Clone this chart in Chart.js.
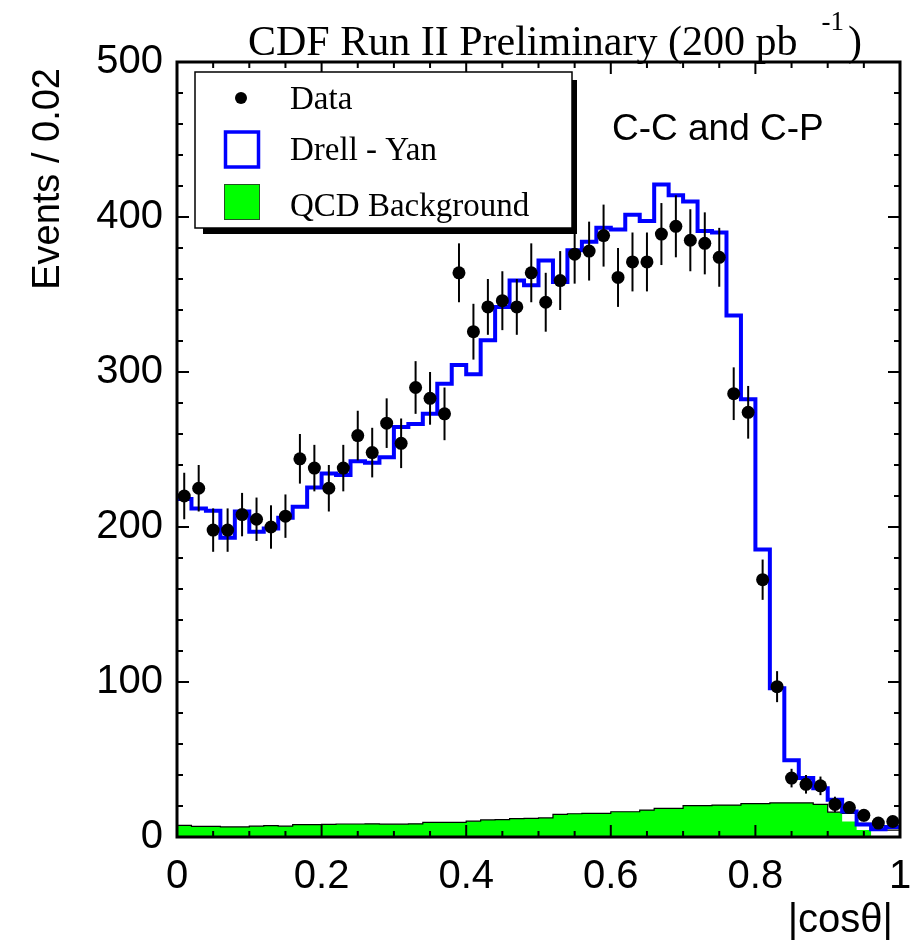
<!DOCTYPE html>
<html><head><meta charset="utf-8">
<script src="https://cdn.jsdelivr.net/npm/chart.js@4.4.0/dist/chart.umd.min.js"></script>
<style>html,body{margin:0;padding:0;background:#fff}canvas{display:block}</style>
</head><body>
<canvas id="c" width="917" height="942"></canvas>
<script>
// ---- data (|cos theta| bins of width 0.02) ----
const binEdges = [0,0.02,0.04,0.06,0.08,0.10,0.12,0.14,0.16,0.18,0.20,0.22,0.24,0.26,0.28,0.30,0.32,0.34,0.36,0.38,0.40,0.42,0.44,0.46,0.48,0.50,0.52,0.54,0.56,0.58,0.60,0.62,0.64,0.66,0.68,0.70,0.72,0.74,0.76,0.78,0.80,0.82,0.84,0.86,0.88,0.90,0.92,0.94,0.96,0.98,1.00];
const dataCounts = [220,225,198,198,208,205,200,207,244,238,225,238,259,248,267,254,290,283,273,364,326,342,346,342,364,345,359,376,378,388,361,371,371,389,394,385,383,374,286,274,166,97,38,34,33,21,19,14,9,10];
const dataErrors = [15,15,14,14,14,14,14,14,16,15,15,15,16,16,16,16,17,17,17,19,18,18,19,18,19,19,19,19,19,20,19,19,19,20,20,20,20,19,17,17,13,10,6,6,6,5,4,4,3,3];
const drellYan = [218,212,210.5,193,210,197,199,206,213,225.5,234.5,233.5,242.5,241.5,245,264.5,266.5,273,292.5,304.5,298.5,320.5,342,359,356,372,358,378.5,384,393,392,401.5,397.5,421,414,410,391,390,336.5,282.5,185.5,96,49.5,38,31.5,24,16.5,8,5,6.5];
const qcdFill = [7.5,6.8,6.8,6.5,6.5,7.0,7.3,7.0,8.0,8.0,8.2,8.4,8.4,8.5,8.3,8.3,8.5,9.5,9.5,9.5,10.2,11.0,11.2,11.8,12.0,12.3,14.6,15.0,15.3,15.3,16.3,16.3,17.4,18.5,18.5,20.2,20.2,20.6,20.6,21.5,21.5,22.0,22.0,22.0,21.0,16,10,4.5,0,0];
const qcdOutline = [7.5,6.8,6.8,6.5,6.5,7.0,7.3,7.0,8.0,8.0,8.2,8.4,8.4,8.5,8.3,8.3,8.5,9.5,9.5,9.5,10.2,11.0,11.2,11.8,12.0,12.3,14.6,15.0,15.3,15.3,16.3,16.3,17.4,18.5,18.5,20.2,20.2,20.6,20.6,21.5,21.5,22.0,22.0,22.0,21.0,16,15.3,8.8,4.5,4.5];
const xTickLabels = [0,0.2,0.4,0.6,0.8,1];
const yTickLabels = [0,100,200,300,400,500];
const titleText = 'CDF Run II Preliminary (200 pb';
const legendLabels = ['Data','Drell - Yan','QCD Background'];

function steps(vals){
  const pts = vals.map((v,i)=>({x:binEdges[i], y:v}));
  pts.push({x:binEdges[binEdges.length-1], y:vals[vals.length-1]});
  return pts;
}
const points = dataCounts.map((v,i)=>({x:(binEdges[i]+binEdges[i+1])/2, y:v}));

const SANS = '"Liberation Sans", Arial, Helvetica, sans-serif';
const SERIF = '"Liberation Serif", "Times New Roman", serif';

const decor = {
  id:'decor',
  afterDatasetsDraw(chart){
    const ctx = chart.ctx, xs = chart.scales.x, ys = chart.scales.y;
    ctx.save();
    ctx.strokeStyle = '#000'; ctx.lineWidth = 2;
    points.forEach((p,i)=>{
      const px = xs.getPixelForValue(p.x);
      ctx.beginPath();
      ctx.moveTo(px, ys.getPixelForValue(p.y - dataErrors[i]));
      ctx.lineTo(px, ys.getPixelForValue(p.y + dataErrors[i]));
      ctx.stroke();
    });
    ctx.restore();
  },
  afterDraw(chart){
    const ctx = chart.ctx, ca = chart.chartArea, xs = chart.scales.x, ys = chart.scales.y;
    ctx.save();
    // ticks
    ctx.strokeStyle = '#000'; ctx.lineWidth = 2;
    for (let k=0;k<=20;k++){
      const v = k*0.05, px = xs.getPixelForValue(v);
      const len = (k%4===0) ? 12 : 6;
      ctx.beginPath();
      ctx.moveTo(px, ca.bottom); ctx.lineTo(px, ca.bottom-len);
      ctx.moveTo(px, ca.top); ctx.lineTo(px, ca.top+len);
      ctx.stroke();
    }
    for (let k=0;k<=25;k++){
      const v = k*20, py = ys.getPixelForValue(v);
      const len = (k%5===0) ? 12 : 6;
      ctx.beginPath();
      ctx.moveTo(ca.left, py); ctx.lineTo(ca.left+len, py);
      ctx.moveTo(ca.right, py); ctx.lineTo(ca.right-len, py);
      ctx.stroke();
    }
    // frame
    ctx.lineWidth = 3;
    ctx.strokeRect(ca.left, ca.top, ca.right-ca.left, ca.bottom-ca.top);

    // legend box with shadow
    ctx.fillStyle = '#000';
    ctx.fillRect(203, 80, 374, 154);
    ctx.fillStyle = '#fff';
    ctx.fillRect(195, 72, 377, 156);
    ctx.lineWidth = 1.5; ctx.strokeStyle = '#000';
    ctx.strokeRect(195, 72, 377, 156);
    // legend markers
    ctx.fillStyle = '#000';
    ctx.beginPath(); ctx.arc(241, 98, 6, 0, Math.PI*2); ctx.fill();
    ctx.strokeStyle = '#0000ff'; ctx.lineWidth = 3.5;
    ctx.strokeRect(225.5, 132, 33, 35);
    ctx.fillStyle = '#00ff00';
    ctx.fillRect(224, 184, 36, 36);
    ctx.strokeStyle = '#225522'; ctx.lineWidth = 1;
    ctx.strokeRect(224.5, 184.5, 35, 35);
    ctx.fillStyle = '#000';
    ctx.font = '33px ' + SERIF;
    ctx.textAlign = 'left'; ctx.textBaseline = 'alphabetic';
    ctx.fillText(legendLabels[0], 290, 109);
    ctx.fillText(legendLabels[1], 290, 160);
    ctx.fillText(legendLabels[2], 290, 216);

    // title
    ctx.font = '42px ' + SERIF;
    ctx.fillText(titleText, 248, 55);
    const w = ctx.measureText(titleText).width;
    ctx.font = '27px ' + SERIF;
    ctx.fillText('-1', 248 + w + 24, 30);
    const w2 = ctx.measureText('-1').width;
    ctx.font = '42px ' + SERIF;
    ctx.fillText(')', 248 + w + 24 + w2 + 4, 55);

    // annotation
    ctx.font = '37px ' + SANS;
    ctx.fillText('C-C and C-P', 612, 140);

    // axis titles
    ctx.font = '40px ' + SANS;
    ctx.textAlign = 'right';
    ctx.fillText('|cos\u03b8|', 893, 932);
    ctx.save();
    ctx.translate(59, 68);
    ctx.rotate(-Math.PI/2);
    ctx.font = '38px ' + SANS;
    ctx.textAlign = 'right';
    ctx.fillText('Events / 0.02', 0, 0);
    ctx.restore();
    ctx.restore();
  }
};

new Chart(document.getElementById('c'), {
  type: 'line',
  data: {
    datasets: [
      { label:'Data', data: points, showLine:false, pointRadius:6.5, pointHoverRadius:6.5,
        pointBackgroundColor:'#000', pointBorderColor:'#000', pointBorderWidth:0 },
      { label:'Drell - Yan', data: steps(drellYan), stepped:'before', borderColor:'#0000ff',
        borderWidth:4, pointRadius:0, fill:false },
      { label:'QCD outline', data: steps(qcdOutline), stepped:'before', borderColor:'#000',
        borderWidth:1.2, pointRadius:0, fill:false },
      { label:'QCD Background', data: steps(qcdFill), stepped:'before', borderColor:'rgba(0,0,0,0)',
        borderWidth:0, backgroundColor:'#00ff00', pointRadius:0, fill:'origin' }
    ]
  },
  options: {
    responsive:false, animation:false, devicePixelRatio:1,
    layout:{ padding:{ top:62, right:17, left:0, bottom:0 } },
    plugins:{ legend:{display:false}, tooltip:{enabled:false} },
    scales:{
      x:{ type:'linear', min:0, max:1,
        afterFit:(s)=>{ s.height = 105; s.paddingLeft = 0; s.paddingRight = 0; },
        afterBuildTicks:(s)=>{ s.ticks = xTickLabels.map(v=>({value:v})); },
        grid:{display:false, drawTicks:false}, border:{display:false},
        ticks:{ font:{family:SANS, size:40}, color:'#000', padding:16, maxRotation:0, autoSkip:false,
          callback:(v)=>String(+v.toFixed(1)) } },
      y:{ type:'linear', min:0, max:500,
        afterFit:(s)=>{ s.width = 177; s.paddingTop = 0; s.paddingBottom = 0; },
        afterBuildTicks:(s)=>{ s.ticks = yTickLabels.map(v=>({value:v})); },
        grid:{display:false, drawTicks:false}, border:{display:false},
        ticks:{ font:{family:SANS, size:40}, color:'#000', padding:14, autoSkip:false } }
    }
  },
  plugins:[decor]
});
</script>
</body></html>
